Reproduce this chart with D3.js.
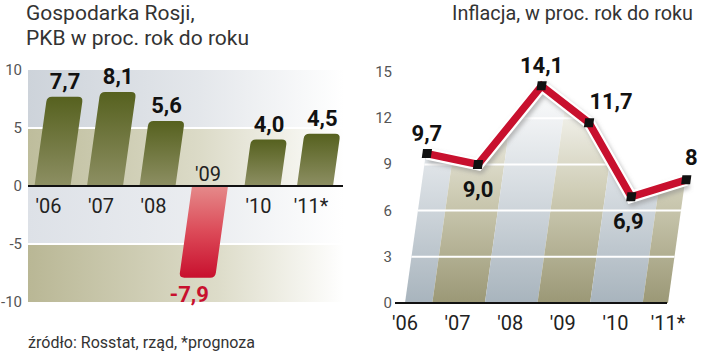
<!DOCTYPE html>
<html><head><meta charset="utf-8">
<script src="https://cdn.jsdelivr.net/npm/d3@7"></script>
<style>body{margin:0;background:#fff}svg{display:block}</style>
</head><body>
<svg id="chart" width="720" height="356"></svg>
<script>
// ---------- DATA ----------
const gdpYears = ["'06","'07","'08","'09","'10","'11*"];
const gdpValues = [7.7, 8.1, 5.6, -7.9, 4.0, 4.5];
const gdpLabels = ["7,7","8,1","5,6","-7,9","4,0","4,5"];
const gdpTicks = [10, 5, 0, -5, -10];

const infYears = ["'06","'07","'08","'09","'10","'11*"];
const infValues = [9.7, 9.0, 14.1, 11.7, 6.9, 8];
const infLabels = ["9,7","9,0","14,1","11,7","6,9","8"];
const infTicks = [15, 12, 9, 6, 3, 0];

const titleLeft = ["Gospodarka Rosji,", "PKB w proc. rok do roku"];
const titleRight = "Inflacja, w proc. rok do roku";
const sourceText = "źródło: Rosstat, rząd, *prognoza";

// ---------- SETUP ----------
const svg = d3.select("#chart");
const FONT = "Roboto, 'Liberation Sans', Arial, sans-serif";
const K = 0.14; // slant
const skewDeg = -Math.atan(K) * 180 / Math.PI;
const defs = svg.append("defs");

function linGrad(id, x1, y1, x2, y2, stops, units) {
  const g = defs.append("linearGradient").attr("id", id)
    .attr("x1", x1).attr("y1", y1).attr("x2", x2).attr("y2", y2);
  if (units) g.attr("gradientUnits", units);
  stops.forEach(s => g.append("stop").attr("offset", s[0]).attr("stop-color", s[1]));
}
linGrad("bandBlue", 0, 0, 1, 0, [[0, "#cdd3da"], [0.55, "#e4e7eb"], [1, "#ffffff"]]);
linGrad("bandOlive", 0, 0, 1, 0, [[0, "#bebd9c"], [0.55, "#dcdbc8"], [1, "#ffffff"]]);
linGrad("bandBlue2", 0, 0, 1, 0, [[0, "#dde1e7"], [0.6, "#eceef1"], [1, "#ffffff"]]);
linGrad("bandOlive2", 0, 0, 1, 0, [[0, "#b9b795"], [0.6, "#dddcc9"], [1, "#ffffff"]]);
linGrad("barOlive", 0, 0, 0, 1, [[0, "#56611f"], [1, "#8d8f63"]]);
linGrad("barRed", 0, 0, 0, 1, [[0, "#e58a8a"], [0.5, "#dc4a58"], [1, "#c8102e"]]);
linGrad("stripeBlue", 0, 303, 0, 80, [[0, "#a8b4bd"], [0.5, "#d5dbe0"], [1, "#ffffff"]], "userSpaceOnUse");
linGrad("stripeOlive", 0, 303, 0, 80, [[0, "#9b9876"], [0.5, "#cfcdb6"], [1, "#ffffff"]], "userSpaceOnUse");

const shadow = defs.append("filter").attr("id", "blur").attr("x", "-10%").attr("y", "-10%").attr("width", "120%").attr("height", "130%");
shadow.append("feGaussianBlur").attr("stdDeviation", 2);

// bar path in unskewed coordinates: base y0, end y1, rounded corners at the far end
function barPath(c, w, y0, y1, r) {
  const up = y1 < y0;
  const l = c - w, rr = c + w;
  const s = up ? 1 : -1;
  return `M${l},${y0} L${l},${y1 + s * r} Q${l},${y1} ${l + r},${y1} L${rr - r},${y1} Q${rr},${y1} ${rr},${y1 + s * r} L${rr},${y0} Z`;
}

// ---------- LEFT CHART ----------
const yL = d3.scaleLinear().domain([-10, 10]).range([302, 70]);
const xL = d3.scalePoint().domain(gdpYears).range([52.5, 315]);
const y0L = yL(0);
const left = svg.append("g");

// title
left.append("text").attr("font-family", FONT).attr("font-size", 21).attr("fill", "#333")
  .selectAll("tspan").data(titleLeft).join("tspan")
  .attr("x", 26).attr("y", (d, i) => 20 + i * 25).text(d => d);

// background bands
const bands = [[10, 5, "url(#bandBlue)"], [5, 0, "url(#bandOlive)"], [0, -5, "url(#bandBlue2)"], [-5, -10, "url(#bandOlive2)"]];
left.selectAll("rect.band").data(bands).join("rect").attr("class", "band")
  .attr("x", 28).attr("width", 316)
  .attr("y", d => yL(d[0])).attr("height", d => yL(d[1]) - yL(d[0]))
  .attr("fill", d => d[2]);
// gridlines
left.selectAll("line.grid").data([5, -5]).join("line")
  .attr("x1", 28).attr("x2", 344).attr("y1", d => yL(d)).attr("y2", d => yL(d))
  .attr("stroke", "#fff").attr("stroke-width", 2);

// bars (skewed group)
const barsG = left.append("g").attr("transform", `translate(0,${y0L}) skewX(${skewDeg}) translate(0,${-y0L})`);
barsG.selectAll("path").data(gdpValues).join("path")
  .attr("d", (v, i) => barPath(xL(gdpYears[i]), 18, y0L, yL(v), 5))
  .attr("fill", v => v < 0 ? "url(#barRed)" : "url(#barOlive)");

// zero axis
left.append("line").attr("x1", 28).attr("x2", 343).attr("y1", y0L).attr("y2", y0L)
  .attr("stroke", "#111").attr("stroke-width", 2);

// y tick labels
left.selectAll("text.tick").data(gdpTicks).join("text").attr("class", "tick")
  .attr("x", 22).attr("y", d => yL(d) + 5).attr("text-anchor", "end")
  .attr("font-family", FONT).attr("font-size", 15).attr("fill", "#555").text(d => d);

// category labels
left.selectAll("text.cat").data(gdpYears).join("text").attr("class", "cat")
  .attr("x", (d, i) => gdpValues[i] < 0 ? xL(d) - 2 : xL(d) - 4)
  .attr("y", (d, i) => gdpValues[i] < 0 ? y0L - 5 : y0L + 27)
  .attr("text-anchor", "middle").attr("font-family", FONT).attr("font-size", 20).attr("fill", "#222")
  .text(d => d);

// value labels
left.selectAll("text.val").data(gdpValues).join("text").attr("class", "val")
  .attr("x", (v, i) => xL(gdpYears[i]) + K * (y0L - yL(v)) + (v < 0 ? -8 : 0))
  .attr("y", v => v < 0 ? yL(v) + 24 : yL(v) - 8)
  .attr("text-anchor", "middle").attr("font-family", FONT).attr("font-weight", "bold")
  .attr("font-size", 22).attr("fill", v => v < 0 ? "#c8102e" : "#111")
  .text((v, i) => gdpLabels[i]);

// source
left.append("text").attr("x", 28).attr("y", 348).attr("font-family", FONT).attr("font-size", 17)
  .attr("textLength", 227).attr("lengthAdjust", "spacingAndGlyphs")
  .attr("fill", "#333").text(sourceText);

// ---------- RIGHT CHART ----------
const yR = d3.scaleLinear().domain([0, 15]).range([303, 72]);
const xR = d3.scalePoint().domain(infYears).range([406, 669]);
const y0R = yR(0);
const right = svg.append("g");

right.append("text").attr("x", 452).attr("y", 20).attr("font-family", FONT).attr("font-size", 21)
  .attr("textLength", 241).attr("lengthAdjust", "spacingAndGlyphs")
  .attr("fill", "#333").text(titleRight);

const skewG = right.append("g").attr("transform", `translate(0,${y0R}) skewX(${skewDeg}) translate(0,${-y0R})`);
const step = xR.step();

// clip: plot parallelogram & area under line
const extPts = [[370, infValues[0]]].concat(infValues.map((v, i) => [xR(infYears[i]), v])).concat([[710, infValues[infValues.length - 1]]]);
const areaGen = d3.area().x(d => d[0]).y0(y0R).y1(d => yR(d[1]));
const clipA = defs.append("clipPath").attr("id", "clipArea");
clipA.append("path").attr("d", areaGen(extPts));
const clipB = defs.append("clipPath").attr("id", "clipPlot");
clipB.append("rect").attr("x", 405).attr("y", 40).attr("width", 263).attr("height", y0R - 40);

const stripeG = skewG.append("g").attr("clip-path", "url(#clipPlot)")
  .append("g").attr("clip-path", "url(#clipArea)");
stripeG.selectAll("rect").data(infYears).join("rect")
  .attr("x", d => xR(d) - step / 2).attr("width", step)
  .attr("y", 40).attr("height", y0R - 40)
  .attr("fill", (d, i) => i % 2 === 0 ? "url(#stripeBlue)" : "url(#stripeOlive)");

// gridlines
skewG.append("g").attr("clip-path", "url(#clipPlot)")
  .selectAll("line").data(infTicks.filter(t => t > 0 && t < 15)).join("line")
  .attr("x1", 380).attr("x2", 700).attr("y1", d => yR(d)).attr("y2", d => yR(d))
  .attr("stroke", "#fff").attr("stroke-width", 2);

// axis line
right.append("line").attr("x1", 395).attr("x2", 667).attr("y1", y0R).attr("y2", y0R)
  .attr("stroke", "#111").attr("stroke-width", 2);

// y ticks
right.selectAll("text.tick").data(infTicks).join("text").attr("class", "tick")
  .attr("x", 392).attr("y", d => yR(d) + 5).attr("text-anchor", "end")
  .attr("font-family", FONT).attr("font-size", 15).attr("fill", "#555").text(d => d);

// category labels
right.selectAll("text.cat").data(infYears).join("text").attr("class", "cat")
  .attr("x", d => xR(d) - 1).attr("y", 330).attr("text-anchor", "middle")
  .attr("font-family", FONT).attr("font-size", 20).attr("fill", "#222").text(d => d);

// line points (screen coords with slant)
const pts = infValues.map((v, i) => [xR(infYears[i]) + K * (y0R - yR(v)), yR(v)]);
const lineGen = d3.line();
right.append("path").attr("d", lineGen(pts.map(p => [p[0] + 2, p[1] + 3])))
  .attr("fill", "none").attr("stroke", "#888").attr("stroke-opacity", 0.55).attr("stroke-width", 12)
  .attr("stroke-linejoin", "miter").attr("filter", "url(#blur)");
right.append("path").attr("d", lineGen(pts)).attr("fill", "none").attr("stroke", "#fff")
  .attr("stroke-width", 12).attr("stroke-linejoin", "miter");
right.append("path").attr("d", lineGen(pts)).attr("fill", "none").attr("stroke", "#c8102e")
  .attr("stroke-width", 7.5).attr("stroke-linejoin", "miter");

// markers
right.selectAll("rect.mk").data(pts).join("rect").attr("class", "mk")
  .attr("x", -4.5).attr("y", -4.5).attr("width", 9).attr("height", 9)
  .attr("transform", d => `translate(${d[0]},${d[1]}) skewX(${skewDeg})`)
  .attr("fill", "#111");

// value labels
const labelPos = [[0, -13], [0, 33], [0, -13], [22, -14], [-3, 32], [5, -15]];
right.selectAll("text.val").data(pts).join("text").attr("class", "val")
  .attr("x", (d, i) => d[0] + labelPos[i][0]).attr("y", (d, i) => d[1] + labelPos[i][1])
  .attr("text-anchor", "middle").attr("font-family", FONT).attr("font-weight", "bold")
  .attr("font-size", 22).attr("fill", "#111").text((d, i) => infLabels[i]);
</script>
</body></html>
